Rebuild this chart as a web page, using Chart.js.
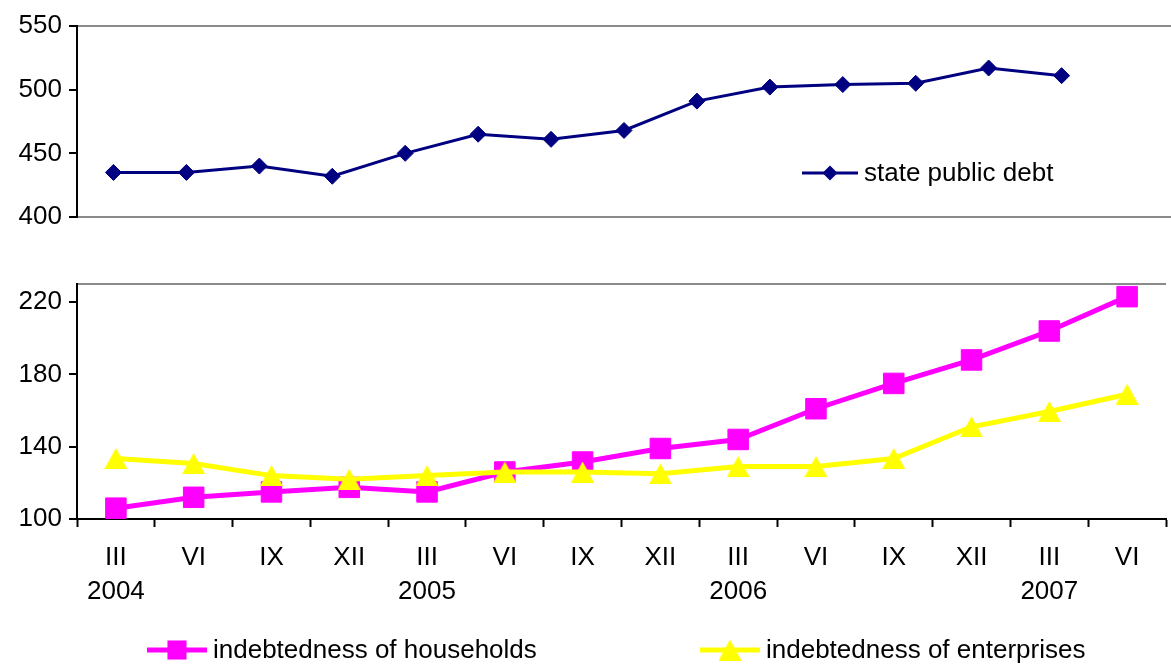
<!DOCTYPE html>
<html><head><meta charset="utf-8">
<script src="https://cdn.jsdelivr.net/npm/chart.js@4"></script>
<style>
html,body{margin:0;padding:0;background:#fff;overflow:hidden;width:1171px;height:664px;position:relative;}
#c1{position:absolute;left:0;top:0;}
#c2{position:absolute;left:0;top:260px;}
</style></head><body>
<canvas id="c1" width="1180" height="240"></canvas>
<canvas id="c2" width="1183" height="404"></canvas>
<script>
// ---- data ----
const quarters = ['III','VI','IX','XII','III','VI','IX','XII','III','VI','IX','XII','III','VI'];
const years    = ['2004','','','','2005','','','','2006','','','','2007',''];
const statePublicDebt = [435,435,440,432,450,465,461,468,491,502,504,505,517,511];
const households      = [106,112,115,117.5,115,126,131.5,139,144,161,175,188,204,223];
const enterprises     = [133.5,130.7,124,122,124,126,126,125,129,129,133.5,151,159.5,169];
const topTicks    = [400,450,500,550];
const bottomTicks = [100,140,180,220];
const seriesNames = ['state public debt','indebtedness of households','indebtedness of enterprises'];

// ---- styling ----
const FONT = '"Liberation Sans", Arial, sans-serif';
const FS = 26;
Chart.defaults.font.family = FONT;
Chart.defaults.font.size = FS;
Chart.defaults.color = '#000';
const GRAY = '#8a8a8a';
const NAVY = '#000080', MAG = '#ff00ff', YEL = '#ffff00';

// centered triangle marker (bounding box centred on point)
function triImg(w, h, color){
  const c = document.createElement('canvas'); c.width = w; c.height = h;
  const g = c.getContext('2d'); g.fillStyle = color;
  g.beginPath(); g.moveTo(w/2,0); g.lineTo(w,h); g.lineTo(0,h); g.closePath(); g.fill();
  return c;
}
const TRI = triImg(23, 21, YEL);

function drawMarker(ctx, style, r, x, y, color){
  ctx.fillStyle = color;
  if (style instanceof HTMLCanvasElement){ ctx.drawImage(style, x - style.width/2, y - style.height/2); return; }
  ctx.beginPath();
  if (style === 'rect'){ const s = r*Math.SQRT1_2; ctx.rect(x-s, y-s, 2*s, 2*s); }
  else if (style === 'rectRot'){ ctx.moveTo(x-r,y); ctx.lineTo(x,y-r); ctx.lineTo(x+r,y); ctx.lineTo(x,y+r); ctx.closePath(); }
  ctx.fill();
}

const lineLegend = {
  id: 'lineLegend',
  afterDraw(chart, args, opts){
    const ctx = chart.ctx;
    (opts.items || []).forEach(it => {
      const ds = chart.data.datasets[it.dataset];
      ctx.save();
      ctx.strokeStyle = ds.borderColor; ctx.lineWidth = ds.borderWidth;
      ctx.beginPath(); ctx.moveTo(it.x, it.y); ctx.lineTo(it.x + it.w, it.y); ctx.stroke();
      drawMarker(ctx, ds.pointStyle, it.r, it.x + it.w/2, it.y, ds.pointBackgroundColor);
      ctx.fillStyle = '#000'; ctx.font = FS + 'px ' + FONT; ctx.textBaseline = 'middle'; ctx.textAlign = 'left';
      ctx.fillText(ds.label, it.x + it.w + it.gap, it.y + 1);
      ctx.restore();
    });
  }
};

function yAxis(min, max, ticks, extra){
  const all = ticks.concat(extra);
  return {
    min, max,
    afterBuildTicks: a => { a.ticks = all.map(v => ({value: v})); },
    afterFit: a => { a.width = 77; },
    border: {display: true, color: '#000', width: 2},
    grid: {
      drawOnChartArea: true, drawTicks: true, tickLength: 8, tickWidth: 2,
      color: c => (c.tick && (c.tick.value === min || c.tick.value === max)) ? GRAY : 'rgba(0,0,0,0)',
      lineWidth: 2,
      tickColor: c => (c.tick && ticks.includes(c.tick.value)) ? '#000' : 'rgba(0,0,0,0)'
    },
    ticks: {
      padding: 7, color: '#000', font: {size: FS, family: FONT},
      callback: v => ticks.includes(v) ? String(v) : ''
    }
  };
}

// ---- top panel ----
new Chart(document.getElementById('c1'), {
  type: 'line',
  data: {
    labels: quarters.concat(['']),
    datasets: [{
      label: seriesNames[0], data: statePublicDebt,
      borderColor: NAVY, backgroundColor: NAVY, borderWidth: 3,
      pointStyle: 'rectRot', pointRadius: 8, pointBackgroundColor: NAVY, pointBorderColor: NAVY, pointBorderWidth: 1,
      tension: 0, fill: false
    }]
  },
  options: {
    responsive: false, animation: false, devicePixelRatio: 1,
    layout: {padding: {top: 26, bottom: 23, left: 0, right: 0}},
    scales: {
      x: {type: 'category', display: false, offset: true},
      y: yAxis(400, 550, topTicks, [])
    },
    plugins: {
      legend: {display: false}, tooltip: {enabled: false},
      lineLegend: {items: [{dataset: 0, x: 802, w: 56, y: 173, gap: 6, r: 7.5}]}
    }
  },
  plugins: [lineLegend]
});

// ---- bottom panel ----
new Chart(document.getElementById('c2'), {
  type: 'line',
  data: {
    labels: quarters.map((q, i) => years[i] ? [q, years[i]] : q),
    datasets: [{
      label: seriesNames[2], data: enterprises, order: 0,
      borderColor: YEL, backgroundColor: YEL, borderWidth: 5,
      pointStyle: TRI, pointRadius: 12, pointBackgroundColor: YEL, pointBorderColor: YEL,
      tension: 0, fill: false
    }, {
      label: seriesNames[1], data: households, order: 1,
      borderColor: MAG, backgroundColor: MAG, borderWidth: 5,
      pointStyle: 'rect', pointRadius: 14.5, pointBackgroundColor: MAG, pointBorderColor: MAG, pointBorderWidth: 1,
      tension: 0, fill: false
    }]
  },
  options: {
    responsive: false, animation: false, devicePixelRatio: 1,
    layout: {padding: {top: 24, bottom: 0, left: 0, right: 0}},
    scales: {
      x: {
        type: 'category', offset: true,
        afterFit: a => { a.height = 145; },
        border: {display: true, color: '#000', width: 2},
        grid: {drawOnChartArea: false, drawTicks: true, tickLength: 8, tickWidth: 2, tickColor: '#000', offset: true},
        ticks: {padding: 14, maxRotation: 0, autoSkip: false, color: '#000', font: {size: FS, family: FONT, lineHeight: 1.31}}
      },
      y: yAxis(100, 230, bottomTicks, [230])
    },
    plugins: {
      legend: {display: false}, tooltip: {enabled: false},
      lineLegend: {items: [
        {dataset: 1, x: 147, w: 60, y: 390, gap: 6, r: 13.5},
        {dataset: 0, x: 700, w: 60, y: 390, gap: 6, r: 12}
      ]}
    }
  },
  plugins: [lineLegend]
});
</script>
</body></html>
